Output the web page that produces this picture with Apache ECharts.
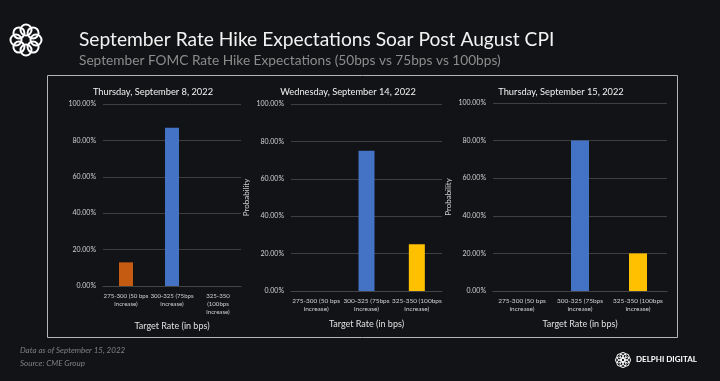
<!DOCTYPE html>
<html><head><meta charset="utf-8">
<script src="https://cdn.jsdelivr.net/npm/echarts@6/dist/echarts.min.js"></script>
<style>html,body{margin:0;padding:0;background:#121316;}#c{width:720px;height:381px;}</style>
</head><body><div id="c"></div>
<script>
const categoriesA = ['275-300 (50 bps\nincrease)', '300-325 (75bps\nincrease)', '325-350\n(100bps\nincrease)'];
const categoriesB = ['275-300 (50 bps\nincrease)', '300-325 (75bps\nincrease)', '325-350 (100bps\nincrease)'];
const sep8 = [13, 87, 0];
const sep14 = [0, 75, 25];
const sep15 = [0, 80, 20];
const panelTitles = ['Thursday, September 8, 2022', 'Wednesday, September 14, 2022', 'Thursday, September 15, 2022'];
const barColors = ['#C55A11', '#4472C4', '#FFC000'];
const FONT = 'Lato';

const chart = echarts.init(document.getElementById('c'), null, {renderer: 'canvas'});
const grids = [
  {left: 103, width: 138, top: 104, height: 182},
  {left: 291, width: 151, top: 104, height: 187},
  {left: 493, width: 174, top: 103, height: 188}
];
const nameGapsX = [36, 29, 29];
const barW = [14, 16, 18];
const labelSize = [6.1, 6.5, 6.5];
const dataSets = [sep8, sep14, sep15];
const cats = [categoriesA, categoriesB, categoriesB];
const titleX = [148, 343, 556];

// logo rings
const logo = [];
for (let i = 0; i < 8; i++) {
  const a = i * Math.PI / 4;
  logo.push({type: 'circle', shape: {cx: 26 + 10 * Math.cos(a), cy: 40 + 10 * Math.sin(a), r: 5.5},
    style: {fill: 'none', stroke: '#ffffff', lineWidth: 2}});
}
const logo2 = [];
for (let i = 0; i < 8; i++) {
  const a = i * Math.PI / 4;
  logo2.push({type: 'circle', shape: {cx: 623 + 4.5 * Math.cos(a), cy: 360 + 4.5 * Math.sin(a), r: 3},
    style: {fill: 'none', stroke: '#ffffff', lineWidth: 1}});
}

chart.setOption({
  backgroundColor: '#121316',
  animation: false,
  textStyle: {fontFamily: FONT},
  title: [
    {text: 'September Rate Hike Expectations Soar Post August CPI', left: 74, top: 25,
      textStyle: {color: '#f2f2f2', fontSize: 19.2, fontWeight: 'normal', fontFamily: FONT}},
    {text: 'September FOMC Rate Hike Expectations (50bps vs 75bps vs 100bps)', left: 74, top: 49,
      textStyle: {color: '#8c8c8c', fontSize: 13.7, fontWeight: 'normal', fontFamily: FONT}}
  ].concat(panelTitles.map((t, i) => ({text: t, left: titleX[i], top: 82, textAlign: 'center',
      textStyle: {color: '#f2f2f2', fontSize: 9.3, fontWeight: 'normal', fontFamily: FONT}}))),
  graphic: [
    {type: 'rect', shape: {x: 47.5, y: 75.5, width: 630, height: 262}, style: {fill: 'none', stroke: '#b5b5b5', lineWidth: 1}},
    {type: 'text', left: 20, top: 346, style: {text: 'Data as of September 15, 2022', fill: '#808080', font: 'italic 8px Lato'}},
    {type: 'text', left: 20, top: 359, style: {text: 'Source: CME Group', fill: '#808080', font: 'italic 8px Lato'}},
    {type: 'text', left: 636, top: 355, style: {text: 'DELPHI DIGITAL', fill: '#ffffff', font: 'bold 8px Lato', letterSpacing: 1}}
  ].concat(logo, logo2),
  grid: grids,
  xAxis: cats.map((c, i) => ({
    type: 'category', gridIndex: i, data: c,
    name: 'Target Rate (in bps)', nameLocation: 'middle', nameGap: nameGapsX[i],
    nameTextStyle: {color: '#e0e0e0', fontSize: 9, fontFamily: FONT},
    axisLine: {lineStyle: {color: '#454545', width: 1}},
    axisTick: {show: false},
    axisLabel: {interval: 0, color: '#d0d0d0', fontSize: labelSize[i], lineHeight: 8, margin: 6, fontFamily: FONT}
  })),
  yAxis: [0, 1, 2].map(i => ({
    type: 'value', gridIndex: i, min: 0, max: 100, interval: 20,
    name: i === 0 ? '' : 'Probability', nameLocation: 'middle', nameGap: 41, nameRotate: 90,
    nameTextStyle: {color: '#d0d0d0', fontSize: 8, fontFamily: FONT},
    axisLine: {show: false}, axisTick: {show: false},
    splitLine: {lineStyle: {color: '#3f3f3f', width: 1}},
    axisLabel: {color: '#d0d0d0', fontSize: 7, margin: 7, fontFamily: FONT,
      formatter: v => v.toFixed(2) + '%'}
  })),
  series: dataSets.map((d, i) => ({
    type: 'bar', xAxisIndex: i, yAxisIndex: i, data: d, barWidth: barW[i],
    itemStyle: {color: p => barColors[p.dataIndex]}
  }))
});
</script></body></html>
